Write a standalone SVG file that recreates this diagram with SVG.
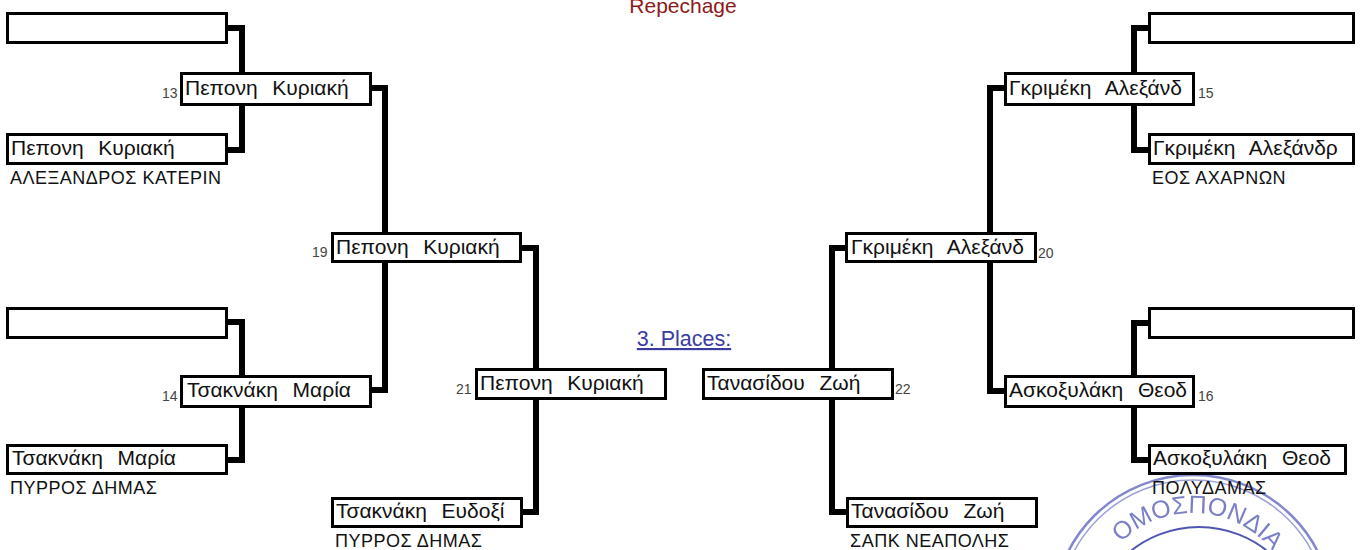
<svg xmlns="http://www.w3.org/2000/svg" width="1364" height="550" viewBox="0 0 1364 550">
<style>
text{font-family:"Liberation Sans",Arial,sans-serif}
.b{fill:#fff;stroke:#000;stroke-width:3}
.n{font-size:21px;fill:#111;word-spacing:1.5px;white-space:pre}
.c{font-size:18px;fill:#111;letter-spacing:.5px}
.s{font-size:14px;fill:#444}
.l{fill:none;stroke:#000;stroke-width:6}
</style>
<defs><filter id="soft" x="-5%" y="-5%" width="110%" height="110%"><feGaussianBlur stdDeviation="0.6"/></filter>
<path id="arc" d="M1120.900 687.100A102 102 0 1 1 1265.100 687.100"/>
</defs>
<rect width="1364" height="550" fill="#fff"/>
<g id="stamp" filter="url(#soft)">
<circle cx="1193" cy="615" r="140" fill="none" stroke="#5a60bb" stroke-width="2.500" opacity=".75"/>
<circle cx="1193" cy="615" r="135" fill="none" stroke="#5a60bb" stroke-width="1.500" opacity=".6"/>
<circle cx="1199" cy="636" r="109" fill="none" stroke="#4f55b5" stroke-width="2"/>
</g>
<text x="683" y="13" font-size="21" style="fill:#8b1a1a" text-anchor="middle">Repechage</text>
<text x="684" y="346" font-size="21.500" fill="#3b3ba0" text-anchor="middle" text-decoration="underline">3. Places:</text>
<g id="connectors">
<path class="l" d="M228 28H242V74M242 104V150H228"/>
<path class="l" d="M370 88H385V234M385 262V390H370"/>
<path class="l" d="M228 322H242V376M242 406V460H228"/>
<path class="l" d="M522 248H536V370M536 400V512H522"/>
<path class="l" d="M1148 28H1134V74M1134 104V150H1148"/>
<path class="l" d="M1006 88H990V234M990 262V391H1006"/>
<path class="l" d="M1148 323H1134V376M1134 406V460H1148"/>
<path class="l" d="M848 248H832V370M832 400V512H848"/>
</g>
<g id="n1"><rect class="b" x="7.500" y="13.500" width="219" height="29"/></g>
<g id="n2"><rect class="b" x="7.500" y="134.500" width="219" height="29"/><text class="n" x="11" y="155" xml:space="preserve">Πεπονη  Κυριακή</text><text class="c" x="10" y="184">ΑΛΕΞΑΝΔΡΟΣ ΚΑΤΕΡΙΝ</text></g>
<g id="n13"><rect class="b" x="181.500" y="73.500" width="189" height="31"/><text class="n" x="185" y="95" xml:space="preserve">Πεπονη  Κυριακή</text><text class="s" x="162" y="98">13</text></g>
<g id="n3"><rect class="b" x="7.500" y="308.500" width="219" height="29"/></g>
<g id="n4"><rect class="b" x="7.500" y="445.500" width="219" height="28"/><text class="n" x="12" y="465" xml:space="preserve">Τσακνάκη  Μαρία</text><text class="c" x="10" y="494">ΠΥΡΡΟΣ ΔΗΜΑΣ</text></g>
<g id="n14"><rect class="b" x="181.500" y="376.500" width="189" height="30"/><text class="n" x="187" y="397" xml:space="preserve">Τσακνάκη  Μαρία</text><text class="s" x="162" y="401">14</text></g>
<g id="n19"><rect class="b" x="332.500" y="233.500" width="188" height="28"/><text class="n" x="336" y="254" xml:space="preserve">Πεπονη  Κυριακή</text><text class="s" x="312" y="257">19</text></g>
<g id="n5"><rect class="b" x="332.500" y="498.500" width="189" height="28"/><text class="n" x="336" y="518" xml:space="preserve">Τσακνάκη  Ευδοξί</text><text class="c" x="335" y="547">ΠΥΡΡΟΣ ΔΗΜΑΣ</text></g>
<g id="n21"><rect class="b" x="476.500" y="369.500" width="189" height="29"/><text class="n" x="480" y="390" xml:space="preserve">Πεπονη  Κυριακή</text><text class="s" x="456" y="394">21</text></g>
<g id="n22"><rect class="b" x="703.500" y="369.500" width="189" height="29"/><text class="n" x="707" y="390" xml:space="preserve">Τανασίδου  Ζωή</text><text class="s" x="895" y="394">22</text></g>
<g id="n6"><rect class="b" x="847.500" y="498.500" width="189" height="28"/><text class="n" x="851" y="518" xml:space="preserve">Τανασίδου  Ζωή</text><text class="c" x="850" y="547">ΣΑΠΚ ΝΕΑΠΟΛΗΣ</text></g>
<g id="n20"><rect class="b" x="846.500" y="233.500" width="189" height="28"/><text class="n" x="851" y="254" xml:space="preserve">Γκριμέκη  Αλεξάνδ</text><text class="s" x="1038" y="258">20</text></g>
<g id="n15"><rect class="b" x="1005.500" y="73.500" width="188" height="31"/><text class="n" x="1009" y="95" xml:space="preserve">Γκριμέκη  Αλεξάνδ</text><text class="s" x="1198" y="98">15</text></g>
<g id="n7"><rect class="b" x="1149.500" y="13.500" width="204" height="29"/></g>
<g id="n8"><rect class="b" x="1149.500" y="134.500" width="204" height="29"/><text class="n" x="1153" y="155" xml:space="preserve">Γκριμέκη  Αλεξάνδρ</text><text class="c" x="1152" y="184">ΕΟΣ ΑΧΑΡΝΩΝ</text></g>
<g id="n16"><rect class="b" x="1005.500" y="376.500" width="188" height="30"/><text class="n" x="1009" y="397" xml:space="preserve">Ασκοξυλάκη  Θεοδ</text><text class="s" x="1198" y="401">16</text></g>
<g id="n9"><rect class="b" x="1149.500" y="308.500" width="204" height="29"/></g>
<g id="n10"><rect class="b" x="1149.500" y="445.500" width="196" height="28"/><text class="n" x="1153" y="465" xml:space="preserve">Ασκοξυλάκη  Θεοδ</text><text class="c" x="1152" y="494">ΠΟΛΥΔΑΜΑΣ</text></g>
<text id="stamptext" font-size="25" fill="#5a60bb" opacity=".8" filter="url(#soft)"><textPath href="#arc" startOffset="160">ΟΜΟΣΠΟΝΔΙΑ</textPath></text>
</svg>
